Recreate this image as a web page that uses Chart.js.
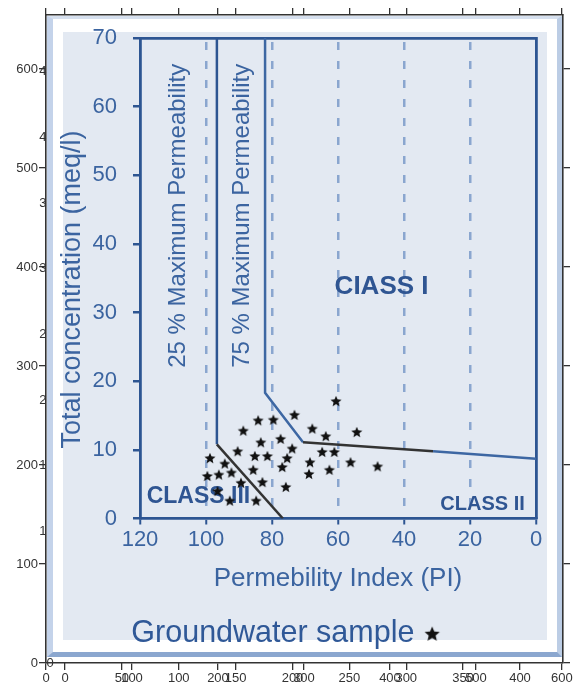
<!DOCTYPE html>
<html>
<head>
<meta charset="utf-8">
<title>Doneen diagram</title>
<script src="https://cdn.jsdelivr.net/npm/chart.js@4.4.0/dist/chart.umd.min.js"></script>
<style>
  body { margin: 0; background: #fff; }
  #wrap { position: relative; width: 582px; height: 688px; overflow: hidden; }
  #ghost { position: absolute; left: 0; top: 0; }
  #frame {
    position: absolute; left: 47px; top: 16px; width: 515px; height: 641px;
    box-sizing: border-box; background: #fff;
    border-style: solid; border-width: 3px 5px 5px 6px;
    border-color: #d6e0ef #bccde5 #8ba7cf #c4d3ea;
  }
  #panel { position: absolute; left: 63px; top: 32px; width: 484px; height: 608px; background: #e3e9f2; }
  #inner { position: absolute; left: 30px; top: 20px; }
</style>
</head>
<body>
<div id="wrap">
  <canvas id="ghost" width="582" height="688"></canvas>
  <div id="frame"></div>
  <div id="panel"></div>
  <canvas id="inner" width="514" height="639"></canvas>
</div>
<script>
// ghost axes behind the pasted figure (two overlapping scales on each side)
const ghostBottomA = [0, 100, 200, 300, 400, 500, 600];
const ghostBottomB = [0, 50, 100, 150, 200, 250, 300, 350, 400];
const ghostLeftA = [0, 100, 200, 300, 400, 500, 600];
const ghostLeftB = [0, 5, 10, 15, 20, 25, 30, 35, 40, 45];

// Doneen diagram
const piTicks = [0, 20, 40, 60, 80, 100, 120];
const concTicks = [0, 10, 20, 30, 40, 50, 60, 70];

const samplePI = [84.2, 79.6, 73.2, 88.7, 83.4, 77.4, 90.4, 73.9, 85.2, 81.4,
                  98.8, 75.4, 94.3, 85.7, 76.9, 99.6, 96.1, 92.3, 82.9, 89.4,
                  75.8, 96.5, 92.8, 84.8, 60.6, 67.8, 63.7, 54.3, 64.8, 61.1,
                  68.5, 56.2, 48.0, 68.8, 62.6];
const sampleConc = [14.3, 14.4, 15.1, 12.8, 11.1, 11.6, 9.8, 10.2, 9.1, 9.1,
                    8.8, 8.8, 8.0, 7.1, 7.5, 6.2, 6.4, 6.7, 5.3, 5.2,
                    4.6, 4.0, 2.6, 2.6, 17.1, 13.1, 12.0, 12.6, 9.7, 9.7,
                    8.2, 8.2, 7.6, 6.5, 7.1];

const line25PI = [96.7, 96.7, 76.7];
const line25Conc = [70, 10.8, 0];
const line75PI = [82.1, 82.1, 70.6, 31.2, 0];
const line75Conc = [70, 18.3, 11.1, 9.8, 8.7];

const blue = '#2d5592';
const textBlue = '#3b64a0';
const font = 'Liberation Sans';

function makeStar(r) {
    const c = document.createElement('canvas');
    const size = Math.ceil(r * 2 + 2);
    c.width = size;
    c.height = size;
    const g = c.getContext('2d');
    g.translate(size / 2, size / 2 + r * 0.08);
    g.beginPath();
    for (let i = 0; i < 10; i++) {
        const rad = i % 2 ? r * 0.45 : r;
        const a = -Math.PI / 2 + i * Math.PI / 5;
        g.lineTo(rad * Math.cos(a), rad * Math.sin(a));
    }
    g.closePath();
    g.fillStyle = '#111';
    g.fill();
    return c;
}

const toTicks = arr => s => { s.ticks = arr.map(v => ({value: v})); };
const noPad = s => { s.paddingLeft = s.paddingRight = s.paddingTop = s.paddingBottom = 0; };
const ghostTickFont = {family: font, size: 13};
const ghostInk = '#333';

// ---------- ghost chart ----------
new Chart(document.getElementById('ghost'), {
    type: 'scatter',
    data: {datasets: []},
    options: {
        responsive: false,
        animation: false,
        plugins: {legend: {display: false}, tooltip: {enabled: false}},
        scales: {
            x: {
                position: 'bottom', min: 0, max: 601.2,
                afterBuildTicks: toTicks(ghostBottomA),
                afterFit: s => { s.height = 25; noPad(s); },
                grid: {drawOnChartArea: false, tickLength: 7, color: ghostInk, lineWidth: 1.3},
                border: {color: ghostInk, width: 1.6},
                ticks: {padding: 1, font: ghostTickFont, color: ghostInk, maxRotation: 0, autoSkip: false}
            },
            x2: {
                position: {y: 0}, min: -16.7, max: 437.8,
                afterBuildTicks: toTicks(ghostBottomB),
                afterFit: noPad,
                grid: {drawOnChartArea: false, tickLength: 7, color: ghostInk, lineWidth: 1.3},
                border: {display: false},
                ticks: {padding: 1, font: ghostTickFont, color: ghostInk, maxRotation: 0, autoSkip: false}
            },
            xTop: {
                position: 'top', min: 0, max: 601.2,
                afterBuildTicks: toTicks(ghostBottomA),
                afterFit: s => { s.height = 15; noPad(s); },
                grid: {drawOnChartArea: false, tickLength: 7, color: ghostInk, lineWidth: 1.3},
                border: {color: ghostInk, width: 1.6},
                ticks: {display: false}
            },
            xTop2: {
                position: {y: 654.5}, min: -16.7, max: 437.8,
                afterBuildTicks: toTicks(ghostBottomB),
                afterFit: noPad,
                grid: {drawOnChartArea: false, tickLength: -7, color: ghostInk, lineWidth: 1.3},
                border: {display: false},
                ticks: {display: false}
            },
            y: {
                position: 'left', min: 0, max: 654.5,
                afterBuildTicks: toTicks(ghostLeftA),
                afterFit: s => { s.width = 46; noPad(s); },
                grid: {drawOnChartArea: false, tickLength: 7, color: ghostInk, lineWidth: 1.3},
                border: {color: ghostInk, width: 1.6},
                ticks: {padding: 1, font: ghostTickFont, color: ghostInk, autoSkip: false}
            },
            y2: {
                position: {x: 9}, min: 0, max: 49.3,
                afterBuildTicks: toTicks(ghostLeftB),
                afterFit: noPad,
                grid: {display: false},
                border: {display: false},
                ticks: {padding: 0, font: ghostTickFont, color: ghostInk, autoSkip: false}
            },
            yRight: {
                position: 'right', min: 0, max: 654.5,
                afterBuildTicks: toTicks(ghostLeftA),
                afterFit: s => { s.width = 19; noPad(s); },
                grid: {drawOnChartArea: false, tickLength: 7, color: ghostInk, lineWidth: 1.3},
                border: {color: ghostInk, width: 1.6},
                ticks: {display: false}
            }
        }
    }
});

// ---------- Doneen diagram ----------
const starSmall = makeStar(5.8);
const starBig = makeStar(8);

const notes = [
    {text: '25 % Maximum Permeability', pi: 108.5, conc: 44.1, rot: -90, size: 24, bold: false},
    {text: '75 % Maximum Permeability', pi: 89.1, conc: 44.1, rot: -90, size: 24, bold: false},
    {text: 'CIASS I', pi: 46.8, conc: 33.8, rot: 0, size: 26, bold: true},
    {text: 'CLASS III', pi: 102.3, conc: 3.2, rot: 0, size: 23, bold: true},
    {text: 'CLASS II', pi: 16.2, conc: 2.0, rot: 0, size: 20, bold: true}
];

const notesPlugin = {
    id: 'notes',
    beforeDatasetsDraw(chart) {
        const {ctx, scales: {x, y}} = chart;
        notes.forEach(n => {
            ctx.save();
            ctx.translate(x.getPixelForValue(n.pi), y.getPixelForValue(n.conc));
            ctx.rotate(n.rot * Math.PI / 180);
            ctx.font = `${n.bold ? 'bold ' : ''}${n.size}px "${font}"`;
            ctx.fillStyle = n.bold ? '#2f5592' : textBlue;
            ctx.textAlign = 'center';
            ctx.textBaseline = 'middle';
            ctx.fillText(n.text, 0, 0);
            ctx.restore();
        });
    }
};

const seg25 = [blue, '#333'];
const seg75 = ['#3d67a3', '#3d67a3', '#333', '#3d67a3'];

const zip = (xs, ys) => xs.map((v, i) => ({x: v, y: ys[i]}));

new Chart(document.getElementById('inner'), {
    type: 'scatter',
    data: {
        datasets: [
            {
                label: 'Groundwater sample',
                data: zip(samplePI, sampleConc),
                pointStyle: starSmall,
                pointRadius: 6
            },
            {
                label: '25 % line',
                data: zip(line25PI, line25Conc),
                showLine: true,
                pointRadius: 0,
                borderWidth: 2.5,
                borderColor: blue,
                segment: {borderColor: c => seg25[c.p0DataIndex]}
            },
            {
                label: '75 % line',
                data: zip(line75PI, line75Conc),
                showLine: true,
                pointRadius: 0,
                borderWidth: 2.5,
                borderColor: blue,
                segment: {borderColor: c => seg75[c.p0DataIndex]}
            }
        ]
    },
    options: {
        responsive: false,
        animation: false,
        layout: {padding: {top: 18, right: 8, left: 0, bottom: 0}},
        plugins: {
            tooltip: {enabled: false},
            legend: {
                position: 'bottom',
                rtl: true,
                textDirection: 'ltr',
                labels: {
                    filter: item => item.datasetIndex === 0,
                    usePointStyle: true,
                    pointStyle: starBig,
                    boxWidth: 5,
                    padding: 20,
                    color: '#2f5897',
                    font: {family: font, size: 30.5}
                }
            }
        },
        scales: {
            x: {
                position: 'bottom', reverse: true, min: 0, max: 120,
                afterBuildTicks: toTicks(piTicks),
                afterFit: s => { s.height = 80; noPad(s); },
                grid: {
                    color: c => (c.tick && c.tick.value % 120 === 0) ? 'rgba(0,0,0,0)' : '#8aa6cf',
                    lineWidth: 2.5,
                    tickLength: 6,
                    tickColor: blue,
                    tickWidth: 2
                },
                border: {color: blue, width: 2.8, dash: [8, 11], dashOffset: -4},
                ticks: {padding: 2, font: {family: font, size: 22}, color: textBlue, maxRotation: 0, autoSkip: false},
                title: {display: true, text: 'Permebility Index (PI)', color: textBlue,
                        font: {family: font, size: 26}, padding: {top: 4, bottom: 4}}
            },
            y: {
                position: 'left', min: 0, max: 70,
                afterBuildTicks: toTicks(concTicks),
                afterFit: s => { s.width = 110; noPad(s); },
                grid: {drawOnChartArea: false, tickLength: 7, color: blue, lineWidth: 2.5},
                border: {color: blue, width: 2.8},
                ticks: {padding: 16, font: {family: font, size: 22}, color: textBlue, autoSkip: false},
                title: {display: true, text: 'Total concentration (meq/l)\u00a0\u00a0\u00a0', color: textBlue,
                        font: {family: font, size: 27}, padding: {top: 26, bottom: 0}}
            },
            xTop: {
                position: 'top', reverse: true, min: 0, max: 120,
                afterFit: s => { s.height = 0; noPad(s); },
                grid: {display: false},
                border: {color: blue, width: 2.8},
                ticks: {display: false}
            },
            yRight: {
                position: 'right', min: 0, max: 70,
                afterFit: s => { s.width = 0; noPad(s); },
                grid: {display: false},
                border: {color: blue, width: 2.8},
                ticks: {display: false}
            }
        }
    },
    plugins: [notesPlugin]
});
</script>
</body>
</html>
